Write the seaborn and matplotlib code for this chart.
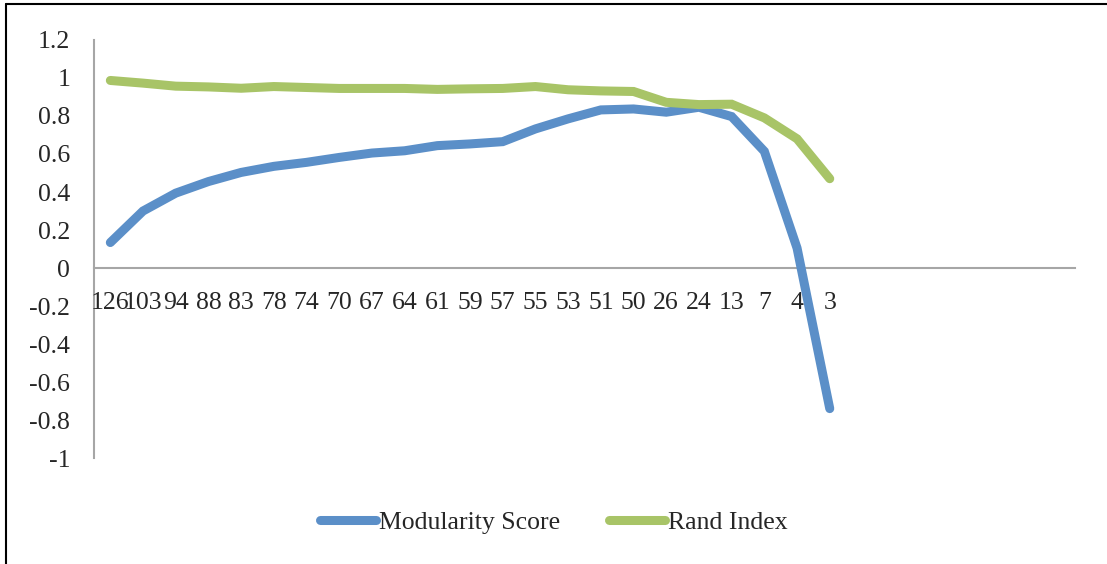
import numpy as np
import pandas as pd
import matplotlib
matplotlib.use("Agg")
import matplotlib.pyplot as plt
from matplotlib.lines import Line2D
import seaborn as sns

# Number of clusters at each step of the hierarchy
clusters = ["126", "103", "94", "88", "83", "78", "74", "70", "67", "64", "61",
            "59", "57", "55", "53", "51", "50", "26", "24", "13", "7", "4", "3"]
# Trailing empty category slots on the axis
n_slots = 30

modularity = [0.134, 0.30, 0.394, 0.455, 0.503, 0.535, 0.556, 0.582, 0.605, 0.617, 0.644,
              0.653, 0.665, 0.732, 0.785, 0.832, 0.837, 0.82, 0.846, 0.797, 0.614, 0.105, -0.74]
rand_index = [0.987, 0.973, 0.957, 0.953, 0.946, 0.955, 0.95, 0.945, 0.945, 0.945, 0.94,
              0.943, 0.945, 0.955, 0.938, 0.932, 0.929, 0.872, 0.86, 0.862, 0.79, 0.68, 0.47]

y_ticks = [-1, -0.8, -0.6, -0.4, -0.2, 0, 0.2, 0.4, 0.6, 0.8, 1, 1.2]
y_labels = ["-1", "-0.8", "-0.6", "-0.4", "-0.2", "0", "0.2", "0.4", "0.6", "0.8", "1", "1.2"]

series_names = ["Modularity Score", "Rand Index"]
colors = ["#5B8FC8", "#A8C467"]

sns.set_style("white")
plt.rcParams["font.family"] = ["Liberation Serif", "DejaVu Serif"]

pos = np.arange(len(clusters))
df = pd.DataFrame({
    "pos": np.concatenate([pos, pos]),
    "value": modularity + rand_index,
    "series": [series_names[0]] * len(clusters) + [series_names[1]] * len(clusters),
})

fig = plt.figure(figsize=(11.07, 5.64), dpi=100)
ax = fig.add_axes([0.0849, 0.1879, 0.8862, 0.7412])

sns.lineplot(data=df, x="pos", y="value", hue="series", palette=colors,
             hue_order=series_names, linewidth=6.5, solid_capstyle="round",
             solid_joinstyle="miter", legend=False, ax=ax, sort=False)

ax.set_xlim(-0.5, n_slots - 0.5)
ax.set_ylim(-1, 1.2)
ax.set_xlabel("")
ax.set_ylabel("")

# Category axis runs along y = 0
for side in ["top", "right"]:
    ax.spines[side].set_visible(False)
ax.spines["bottom"].set_position(("data", 0))
for side in ["left", "bottom"]:
    ax.spines[side].set_color("#A6A6A6")
    ax.spines[side].set_linewidth(1.5)
    ax.spines[side].set_zorder(0)

ax.set_yticks(y_ticks)
ax.set_yticklabels(y_labels)
ax.set_xticks(pos)
ax.set_xticklabels(clusters)
ax.tick_params(axis="y", length=0, pad=17, labelsize=18.5)
ax.tick_params(axis="x", length=0, pad=17, labelsize=18.5)

handles = [Line2D([0], [0], color=c, lw=6.5, solid_capstyle="round") for c in colors]
fig.legend(handles, series_names, loc="center", bbox_to_anchor=(0.5, 0.073), ncol=2,
           frameon=False, fontsize=18.5, handlelength=2.2, handletextpad=0.1,
           columnspacing=1.9)

# Chart frame lines (left and top edges)
fig.add_artist(Line2D([0.0054, 0.0054], [0.0, 0.993], color="black", lw=1.5,
                      transform=fig.transFigure))
fig.add_artist(Line2D([0.0054, 1.0], [0.993, 0.993], color="black", lw=1.5,
                      transform=fig.transFigure))

fig.savefig("out.png", dpi=100)
